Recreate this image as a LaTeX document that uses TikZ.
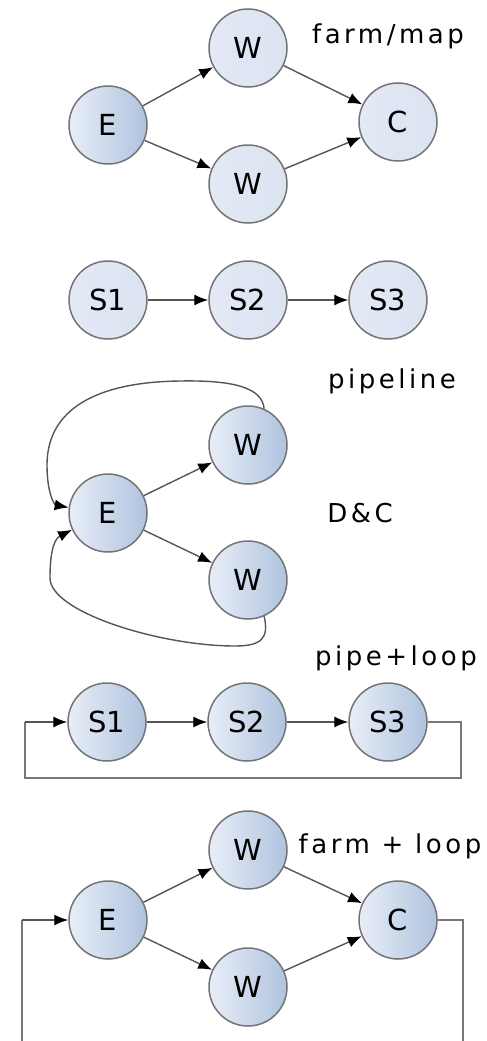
\documentclass[tikz,border=0pt]{standalone}
\usepackage{fontspec}
\setmainfont{DejaVu Sans}
\newfontfamily\spacedfont{DejaVu Sans}[LetterSpace=13.5]
\usetikzlibrary{arrows.meta}
\definecolor{ringgray}{HTML}{747474}
\definecolor{linegray}{HTML}{555555}
\definecolor{loopgray}{HTML}{777777}
\definecolor{flatblue}{HTML}{E3E9F5}
\definecolor{lightblue}{HTML}{E8EEF8}
\definecolor{deepblue}{HTML}{B0C3DE}
\tikzset{
  proc/.style={circle, draw=ringgray, line width=1.5pt, minimum size=78pt,
    inner sep=0pt, left color=lightblue, right color=deepblue,
    font=\fontsize{29}{33}\selectfont},
  flatproc/.style={proc, left color=flatblue, right color=flatblue!85!deepblue},
  flow/.style={draw=linegray, line width=1.4pt,
    -{Latex[length=14pt,width=11pt,black]}},
  loop/.style={draw=loopgray, line width=1.8pt},
  caption/.style={anchor=base, font=\spacedfont\fontsize{26}{30}\selectfont}
}
\begin{document}
\begin{tikzpicture}[x=1pt,y=-1pt]
\useasboundingbox (0,0) rectangle (487,1041);

% farm / map
\node[proc]     (fE)  at (108,125) {E};
\node[flatproc] (fW1) at (248,48)  {W};
\node[flatproc] (fW2) at (248,184) {W};
\node[flatproc] (fC)  at (398,122) {C};
\node[caption]  (fL)  at (388,44)  {farm/map};
\draw[flow] (fE) -- (fW1);
\draw[flow] (fE) -- (fW2);
\draw[flow] (fW1) -- (fC);
\draw[flow] (fW2) -- (fC);

% pipeline
\node[flatproc] (pS1) at (108,300) {S1};
\node[flatproc] (pS2) at (248,300) {S2};
\node[flatproc] (pS3) at (388,300) {S3};
\node[caption]  (pL)  at (392,388) {pipeline};
\draw[flow] (pS1) -- (pS2);
\draw[flow] (pS2) -- (pS3);

% divide and conquer
\node[proc]    (dE)  at (108,513) {E};
\node[proc]    (dW1) at (248,445) {W};
\node[proc]    (dW2) at (248,580) {W};
\node[caption] (dL)  at (360,522) {D\&C};
\draw[flow] (dE) -- (dW1);
\draw[flow] (dE) -- (dW2);
\draw[flow] (dW1.66) .. controls (262,388) and (235,380) .. (180,381)
  .. controls (95,382) and (47,410) .. (47,465)
  .. controls (47,495) and (55,505) .. (dE.172);
\draw[flow] (dW2.-66) .. controls (269,638) and (262,646) .. (235,646)
  .. controls (160,646) and (50,612) .. (50,578)
  .. controls (50,560) and (52,540) .. (dE.205);

% pipeline with feedback
\node[proc]    (lS1) at (107,722) {S1};
\node[proc]    (lS2) at (247,722) {S2};
\node[proc]    (lS3) at (388,722) {S3};
\node[caption] (lL)  at (396,665) {pipe+loop};
\draw[flow] (lS1) -- (lS2);
\draw[flow] (lS2) -- (lS3);
\draw[loop] (lS3.east) -- (461,722) -- (461,778) -- (25,778) -- (25,722)
  coordinate (lIn);
\draw[flow] (lIn) -- (lS1);

% farm with feedback
\node[proc]    (gE)  at (108,920) {E};
\node[proc]    (gW1) at (248,850) {W};
\node[proc]    (gW2) at (248,987) {W};
\node[proc]    (gC)  at (398,920) {C};
\node[caption] (gL)  at (390,853) {farm + loop};
\draw[flow] (gE) -- (gW1);
\draw[flow] (gE) -- (gW2);
\draw[flow] (gW1) -- (gC);
\draw[flow] (gW2) -- (gC);
\coordinate (gOut) at (463,1041);
\coordinate (gBack) at (22,1041);
\draw[loop] (gC.east) -- (463,920) -- (gOut);
\draw[loop] (gBack) -- (22,920) coordinate (gIn);
\draw[flow] (gIn) -- (gE);
\end{tikzpicture}
\end{document}
